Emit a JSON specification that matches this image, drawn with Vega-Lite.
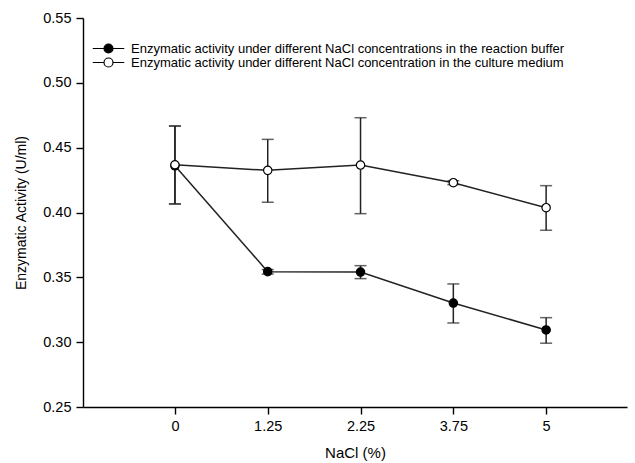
{
  "$schema": "https://vega.github.io/schema/vega-lite/v6.json",
  "width": 544,
  "height": 389,
  "autosize": {"type": "none"},
  "padding": {"left": 83, "top": 18, "right": 8, "bottom": 56},
  "background": "white",
  "config": {
    "view": {"stroke": null},
    "font": "Liberation Sans",
    "axis": {
      "domainColor": "black", "tickColor": "black", "labelColor": "black", "titleColor": "black",
      "labelFont": "Liberation Sans", "titleFont": "Liberation Sans",
      "labelFontSize": 14.5, "titleFontSize": 14, "titleFontWeight": "normal",
      "tickSize": 7, "domainWidth": 1.4, "tickWidth": 1.4, "grid": false
    }
  },
  "data": {
    "values": [
      {"series": "Enzymatic activity under different NaCl concentrations  in the reaction buffer", "nacl": "0", "activity": 0.436, "lo": 0.4066, "hi": 0.4667},
      {"series": "Enzymatic activity under different NaCl concentrations  in the reaction buffer", "nacl": "1.25", "activity": 0.3544, "lo": 0.3525, "hi": 0.3560},
      {"series": "Enzymatic activity under different NaCl concentrations  in the reaction buffer", "nacl": "2.25", "activity": 0.3541, "lo": 0.3490, "hi": 0.3590},
      {"series": "Enzymatic activity under different NaCl concentrations  in the reaction buffer", "nacl": "3.75", "activity": 0.3302, "lo": 0.3148, "hi": 0.3449},
      {"series": "Enzymatic activity under different NaCl concentrations  in the reaction buffer", "nacl": "5", "activity": 0.3094, "lo": 0.2992, "hi": 0.3189},
      {"series": "Enzymatic activity under different NaCl concentration in the  culture medium", "nacl": "0", "activity": 0.4368, "lo": 0.4066, "hi": 0.4667},
      {"series": "Enzymatic activity under different NaCl concentration in the  culture medium", "nacl": "1.25", "activity": 0.4325, "lo": 0.4079, "hi": 0.4564},
      {"series": "Enzymatic activity under different NaCl concentration in the  culture medium", "nacl": "2.25", "activity": 0.4366, "lo": 0.3991, "hi": 0.4731},
      {"series": "Enzymatic activity under different NaCl concentration in the  culture medium", "nacl": "3.75", "activity": 0.423, "lo": 0.4215, "hi": 0.4245},
      {"series": "Enzymatic activity under different NaCl concentration in the  culture medium", "nacl": "5", "activity": 0.4037, "lo": 0.3863, "hi": 0.4207}
    ]
  },
  "encoding": {
    "x": {
      "field": "nacl", "type": "ordinal", "sort": ["0", "1.25", "2.25", "3.75", "5"],
      "scale": {"type": "point", "padding": 0.931, "align": 0.532},
      "axis": {"title": "NaCl (%)", "titleFontSize": 15, "labelAngle": 0, "labelPadding": 5, "titlePadding": 13}
    }
  },
  "layer": [
    {
      "mark": {"type": "line", "color": "#222", "strokeWidth": 1.5},
      "encoding": {
        "y": {"field": "activity", "type": "quantitative",
          "scale": {"domain": [0.25, 0.55], "nice": false, "zero": false},
          "axis": {"title": "Enzymatic Activity (U/ml)", "values": [0.25, 0.3, 0.35, 0.4, 0.45, 0.5, 0.55], "format": ".2f", "labelPadding": 5, "titlePadding": 14}},
        "detail": {"field": "series"}
      }
    },
    {
      "mark": {"type": "rule", "color": "#222", "strokeWidth": 1.5},
      "encoding": {
        "y": {"field": "lo", "type": "quantitative"},
        "y2": {"field": "hi"}
      }
    },
    {
      "mark": {"type": "tick", "orient": "horizontal", "color": "#222", "size": 12, "thickness": 1.5},
      "encoding": {"y": {"field": "lo", "type": "quantitative"}}
    },
    {
      "mark": {"type": "tick", "orient": "horizontal", "color": "#222", "size": 12, "thickness": 1.5},
      "encoding": {"y": {"field": "hi", "type": "quantitative"}}
    },
    {
      "mark": {"type": "point", "filled": true, "size": 70, "stroke": "black", "strokeWidth": 1.2, "opacity": 1, "shape": "circle"},
      "encoding": {
        "y": {"field": "activity", "type": "quantitative"},
        "fill": {
          "field": "series", "type": "nominal",
          "scale": {"domain": ["Enzymatic activity under different NaCl concentrations  in the reaction buffer", "Enzymatic activity under different NaCl concentration in the  culture medium"], "range": ["black", "white"]},
          "legend": {
            "title": null, "orient": "none", "legendX": 19, "legendY": 24,
            "symbolType": "M-3.5,0H-1M1,0H3.5M1,0A1,1,0,1,1,-1,0A1,1,0,1,1,1,0Z",
            "symbolSize": 81, "symbolStrokeColor": "black", "symbolStrokeWidth": 1.2,
            "labelFont": "Liberation Sans", "labelFontSize": 13, "labelColor": "black",
            "labelOffset": 16, "rowPadding": -1, "labelLimit": 600
          }
        }
      }
    }
  ]
}
